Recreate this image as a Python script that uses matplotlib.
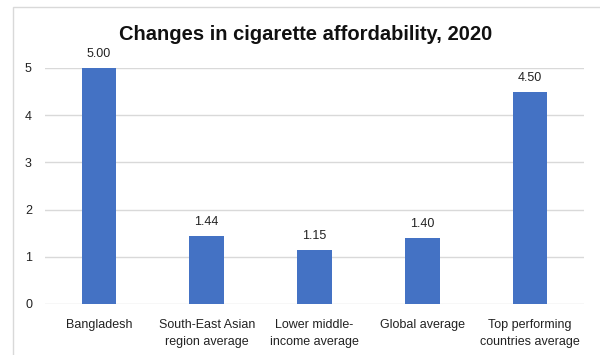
import matplotlib
matplotlib.use("Agg")
import matplotlib.pyplot as plt
from matplotlib.patches import Rectangle

categories = ["Bangladesh", "South-East Asian\nregion average", "Lower middle-\nincome average",
              "Global average", "Top performing\ncountries average"]
values = [5.00, 1.44, 1.15, 1.40, 4.50]
yticks = [0, 1, 2, 3, 4, 5]

plt.rcParams['font.family'] = ['Liberation Sans', 'DejaVu Sans']

fig = plt.figure(figsize=(6, 3.55), dpi=100)
fig.patches.append(Rectangle((12.5/600, -0.1), 1.2, 1 - 7/355 + 0.1, transform=fig.transFigure,
                             fill=False, edgecolor='#d9d9d9', linewidth=1))
ax = fig.add_axes([45/600, 1 - 304/355, 539/600, (304 - 68)/355])
x = range(len(categories))
bars = ax.bar(x, values, width=0.32, color='#4472C4', zorder=3)
for b, v in zip(bars, values):
    ax.annotate(f"{v:.2f}", (b.get_x() + b.get_width()/2, v), xytext=(0, 5.5),
                textcoords='offset points', ha='center', va='bottom', fontsize=9, color='#222222')
ax.set_ylim(0, 5)
ax.set_xlim(-0.5, len(categories) - 0.5)
ax.set_yticks(yticks)
ax.set_xticks(list(x))
ax.set_xticklabels(categories, fontsize=9, color='#222222', linespacing=1.65)
ax.tick_params(axis='y', labelsize=9, colors='#222222', length=0, pad=14.4)
ax.tick_params(axis='x', length=0, pad=10.5)
ax.grid(axis='y', color='#d9d9d9', linewidth=1, zorder=0)
for s in ax.spines.values():
    s.set_visible(False)
for lbl in ax.get_yticklabels():
    lbl.set_horizontalalignment('left')
fig.text(306/600, 1 - 34/355, "Changes in cigarette affordability, 2020", ha='center', va='center',
         fontsize=14.5, fontweight='bold', color='#111111')
fig.savefig("out.png", dpi=100)
